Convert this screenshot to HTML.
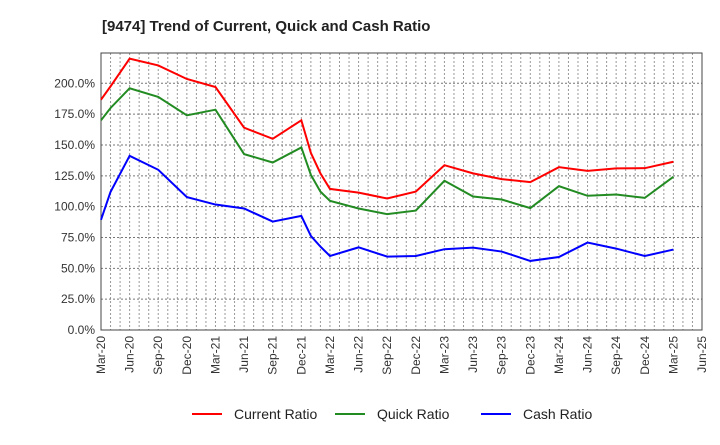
<!DOCTYPE html>
<html><head><meta charset="utf-8"><style>
body{margin:0;background:#fff;font-family:"Liberation Sans",sans-serif}
</style></head><body>
<svg id="c" width="720" height="440" xmlns="http://www.w3.org/2000/svg" font-family="Liberation Sans, sans-serif">
<text x="102" y="31" font-size="15" font-weight="bold" fill="#222">[9474]  Trend of Current, Quick and Cash Ratio</text>
<g id="grid"></g><g id="axes"></g><g id="series"></g><g id="legend"></g>
</svg>
<script>
const months=[0,1,3,6,9,12,15,18,21,22,23,24,27,30,33,36,39,42,45,48,51,54,57,60];
const currentRatio=[186.7,197.5,220,214.5,203.5,197,164,155,170,143.6,127,114.4,111.4,106.6,112.2,133.6,127,122.3,119.9,132,129,131,131.2,136.4];
const quickRatio=[170,180,196,189,174,178.6,142.6,135.8,148,125.8,112.2,104.7,98.5,93.9,96.8,121,108.2,105.8,98.8,116.6,108.8,109.8,107.1,124.2];
const cashRatio=[89.3,112,141.2,129.9,107.7,101.7,98.5,87.9,92.5,76.3,67.6,60,67,59.5,60,65.5,66.8,63.6,56,59.2,70.9,66,60,65.2];
const yTicks=[0,25,50,75,100,125,150,175,200];
const xTickLabels=["Mar-20","Jun-20","Sep-20","Dec-20","Mar-21","Jun-21","Sep-21","Dec-21","Mar-22","Jun-22","Sep-22","Dec-22","Mar-23","Jun-23","Sep-23","Dec-23","Mar-24","Jun-24","Sep-24","Dec-24","Mar-25","Jun-25"];
const L=101,R=702,T=53,B=330;
const xs=m=>L+m*(R-L)/63, ys=v=>B-v*(B-83.3)/200;
const NS="http://www.w3.org/2000/svg";
function mk(t,a,p){const e=document.createElementNS(NS,t);for(const k in a)e.setAttribute(k,a[k]);p.appendChild(e);return e;}
const grid=document.getElementById('grid'),axes=document.getElementById('axes'),ser=document.getElementById('series'),leg=document.getElementById('legend');
for(let m=1;m<63;m++){const l=mk('line',{x1:xs(m),x2:xs(m),y1:T,y2:B,stroke:'#999','stroke-dasharray':'2,2','stroke-width':1},grid);

}
yTicks.forEach(v=>{const l=mk('line',{x1:L,x2:R,y1:ys(v),y2:ys(v),stroke:'#777','stroke-dasharray':'2,2','stroke-width':1},grid);


const t=mk('text',{x:L-6,y:ys(v)+4,'text-anchor':'end','font-size':12,fill:'#333'},axes);t.textContent=v.toFixed(1)+'%';

});
xTickLabels.forEach((s,i)=>{const x=xs(i*3);const t=mk('text',{x:0,y:0,transform:`translate(${x+4},336) rotate(-90)`,'text-anchor':'end','font-size':12,fill:'#333'},axes);t.textContent=s;

});
const fr=mk('rect',{x:L,y:T,width:R-L,height:B-T,fill:'none',stroke:'#444','stroke-width':1},axes);


const S=[["Current Ratio",currentRatio,"#ff0000","current-ratio-line"],["Quick Ratio",quickRatio,"#228b22","quick-ratio-line"],["Cash Ratio",cashRatio,"#0000ff","cash-ratio-line"]];
S.forEach(([n,d,c,nm],k)=>{const p=mk('polyline',{points:d.map((v,i)=>xs(months[i])+','+ys(v)).join(' '),fill:'none',stroke:c,'stroke-width':2},ser);


const lx=[192,335,481][k];
const g=mk('g',{},leg);


mk('line',{x1:lx,x2:lx+30,y1:414,y2:414,stroke:c,'stroke-width':2},g);
const t=mk('text',{x:lx+42,y:419,'font-size':14,fill:'#222'},g);t.textContent=n;});
</script>
</body></html>
